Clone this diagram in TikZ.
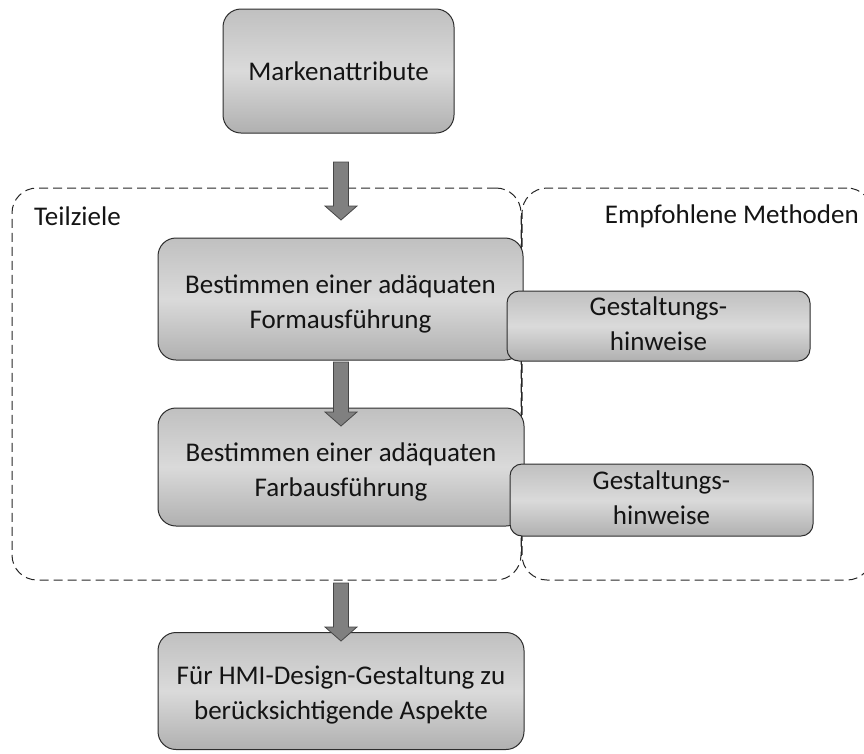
\documentclass[tikz,border=0pt]{standalone}
\usepackage{fontspec}
\setmainfont{Carlito}
\usetikzlibrary{calc}
\definecolor{boxtop}{RGB}{192,192,192}
\definecolor{boxmid}{RGB}{218,218,218}
\definecolor{boxbot}{RGB}{176,176,176}
\definecolor{edgecol}{RGB}{45,45,45}
\definecolor{arrowfill}{RGB}{128,128,128}
\definecolor{arrowedge}{RGB}{70,70,70}
\newcommand\blockarrow[2]{%
  \filldraw[barrow] ($(#1)+(-7.5,0)$) -- ($(#1)+(7.5,0)$) -- ($(#2)+(7.5,-14)$)
    -- ($(#2)+(16,-14)$) -- (#2) -- ($(#2)+(-16,-14)$) -- ($(#2)+(-7.5,-14)$) -- cycle;}
\newcommand\lowered[2]{\raisebox{-#1}[\height][\depth]{#2}}
\begin{document}
\begin{tikzpicture}[x=1pt,y=-1pt,
  every node/.style={font=\fontsize{27}{35}\selectfont, text=black!92, align=center, inner sep=0pt},
  stepbox/.style={draw=edgecol, line width=1pt, rounded corners=18pt,
    top color=boxtop, bottom color=boxbot, middle color=boxmid},
  hintbox/.style={stepbox, rounded corners=12pt},
  groupbox/.style={draw=black!85, line width=1pt, dash pattern=on 9pt off 5pt, rounded corners=25pt},
  barrow/.style={fill=arrowfill, draw=arrowedge, line width=0.8pt},
  sepline/.style={draw=black!85, line width=0.9pt}]
\useasboundingbox (0,0) rectangle (864,753);
% containers
\node[groupbox, minimum width=509pt, minimum height=392pt] (lc) at (266.5,384) {};
\node[groupbox, minimum width=350pt, minimum height=392pt] (rc) at (697,384) {};
\draw[sepline] ($(lc.north east)+(0,25)$) -- ($(lc.south east)+(0,-25)$);
\node[anchor=west] (tz) at (34,216) {Teilziele};
\node[anchor=east] (em) at (859,216) {Empfohlene Methoden};
% boxes
\node[stepbox, minimum width=231pt, minimum height=124pt] (m) at (338.5,71) {Markenattribute};
\node[stepbox, minimum width=365pt, minimum height=122pt] (b1) at (340.5,299) {\lowered{5pt}{\begin{tabular}{@{}c@{}}Bestimmen einer adäquaten\\Formausführung\end{tabular}}};
\node[stepbox, minimum width=366pt, minimum height=118pt] (b2) at (341,467) {\lowered{5pt}{\begin{tabular}{@{}c@{}}Bestimmen einer adäquaten\\Farbausführung\end{tabular}}};
\node[stepbox, minimum width=366pt, minimum height=117pt] (b3) at (341,691) {\lowered{4pt}{\begin{tabular}{@{}c@{}}Für HMI-Design-Gestaltung zu\\berücksichtigende Aspekte\end{tabular}}};
\node[hintbox, minimum width=303pt, minimum height=68pt] (g1) at (658.5,326) {\begin{tabular}{@{}c@{}}Gestaltungs-\\hinweise\end{tabular}};
\node[hintbox, minimum width=303pt, minimum height=72pt] (g2) at (661.5,500) {\begin{tabular}{@{}c@{}}Gestaltungs-\\hinweise\end{tabular}};
% arrows
\coordinate (a1s) at (341,162);
\coordinate (a1e) at (341,220);
\coordinate (a2s) at (341,362);
\coordinate (a2e) at (341,426);
\coordinate (a3s) at (341,583);
\coordinate (a3e) at (341,641);
\blockarrow{a1s}{a1e}
\blockarrow{a2s}{a2e}
\blockarrow{a3s}{a3e}
\end{tikzpicture}
\end{document}
